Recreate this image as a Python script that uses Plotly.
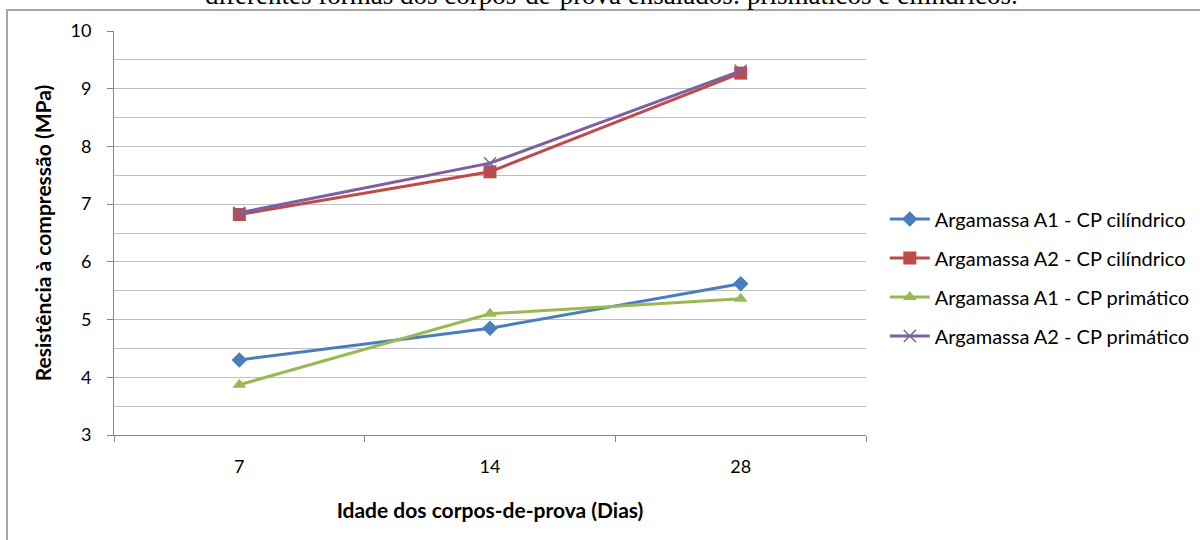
import plotly.graph_objects as go

ages = ["7", "14", "28"]
a1_cil = [4.30, 4.85, 5.62]
a2_cil = [6.82, 7.56, 9.27]
a1_pri = [3.87, 5.10, 5.36]
a2_pri = [6.85, 7.71, 9.31]

names = ["Argamassa A1 - CP cilíndrico", "Argamassa A2 - CP cilíndrico",
         "Argamassa A1 - CP primático", "Argamassa A2 - CP primático"]
series = [a1_cil, a2_cil, a1_pri, a2_pri]
colors = ["#4a7ebb", "#be4b48", "#98b954", "#7d60a0"]
symbols = ["diamond", "square", "triangle-up", "x-thin"]
sizes = [12, 13, 12, 12]

fig = go.Figure()
for i, (n, s, c, sy, sz) in enumerate(zip(names, series, colors, symbols, sizes)):
    marker = dict(symbol=sy, size=sz, color=c)
    if sy == "x-thin":
        marker["line"] = dict(color=c, width=1.5)
    fig.add_trace(go.Scatter(x=ages, y=s, name=n, mode="lines+markers",
                             line=dict(color=c, width=3), marker=marker,
                             legendgroup=str(i)))

font = "Lato, 'Open Sans', sans-serif"
fig.update_layout(
    width=1200, height=540,
    margin=dict(l=114, r=334, t=31, b=105, autoexpand=False),
    paper_bgcolor="white", plot_bgcolor="white",
    font=dict(family=font, color="#000000"),
    showlegend=True,
    legend=dict(x=1.025, y=0.39, xanchor="left", yanchor="middle",
                font=dict(size=20, family=font), tracegroupgap=10,
                itemwidth=40, bgcolor="rgba(0,0,0,0)"),
    xaxis=dict(type="category", range=[-0.5, 2.5], tickson="boundaries",
               ticks="outside", ticklen=6, tickcolor="#868686",
               showline=True, linecolor="#868686", linewidth=1,
               showgrid=False, tickfont=dict(size=18), ticklabelstandoff=15,
               title=dict(text="<b>Idade dos corpos-de-prova (Dias)</b>",
                          font=dict(size=21), standoff=27)),
    yaxis=dict(range=[3, 10], dtick=1, ticks="outside", ticklen=6,
               tickcolor="#868686", showline=True, linecolor="#868686",
               linewidth=1, showgrid=True, gridcolor="#c0c0c0", gridwidth=1,
               minor=dict(dtick=0.5, showgrid=True, gridcolor="#c0c0c0", gridwidth=1),
               tickfont=dict(size=18), ticklabelstandoff=12, zeroline=False,
               title=dict(text="<b>Resistência à compressão (MPa)</b>",
                          font=dict(size=21), standoff=13)),
)

# outer chart frame
fig.add_shape(type="rect", xref="paper", yref="paper",
              x0=(7 - 114) / 752, x1=1.6, y0=-0.4, y1=(435 - 10) / 404,
              line=dict(color="#a6a6a6", width=2), fillcolor="rgba(0,0,0,0)", layer="below")

# clipped caption line from surrounding document
fig.add_annotation(text="diferentes formas dos corpos-de-prova ensaiados: prismáticos e cilíndricos.",
                   xref="paper", yref="paper", x=(611 - 114) / 752, y=1,
                   xanchor="center", yanchor="bottom", yshift=19, showarrow=False,
                   font=dict(family="Liberation Serif, serif", size=27, color="#000000"))

fig.write_html("out.html", config={"displayModeBar": False},
               post_script="document.body.style.margin='0px';")
